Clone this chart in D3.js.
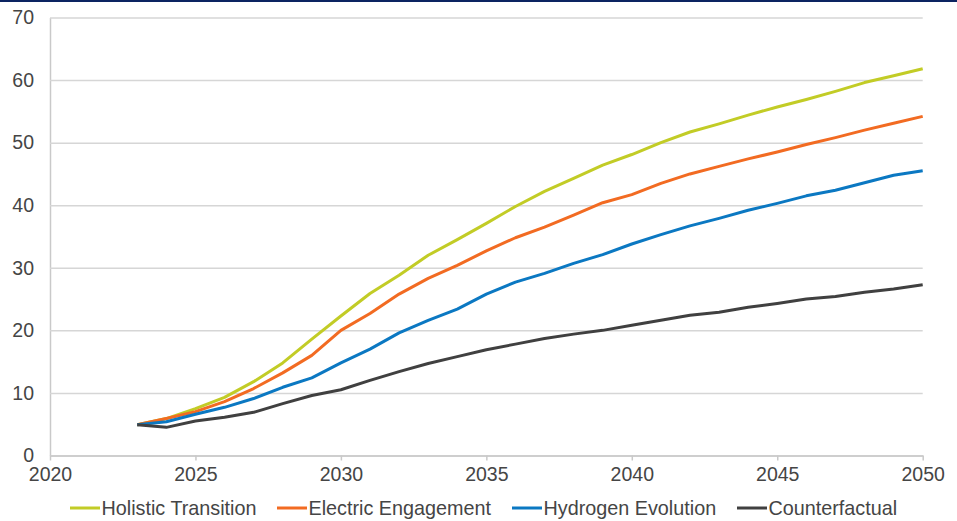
<!DOCTYPE html>
<html>
<head>
<meta charset="utf-8">
<script src="https://cdn.jsdelivr.net/npm/d3@7"></script>
<style>
  html, body { margin: 0; padding: 0; background: #fff; }
  svg { display: block; font-family: "Liberation Sans", Arial, Helvetica, sans-serif; }
</style>
</head>
<body>
<svg id="chart" width="957" height="521"></svg>
<script>
// Annual values, 2023–2050
const years = d3.range(2023, 2051);
const holistic = [4.9, 5.9, 7.5, 9.3, 11.8, 14.8, 18.6, 22.3, 25.9, 28.8, 32.0, 34.5, 37.1, 39.8, 42.2, 44.3, 46.4, 48.1, 50.0, 51.7, 53.0, 54.4, 55.7, 56.9, 58.2, 59.6, 60.7, 61.8];
const electric = [4.9, 5.9, 7.0, 8.6, 10.7, 13.2, 16.0, 20.0, 22.7, 25.8, 28.3, 30.4, 32.7, 34.8, 36.5, 38.4, 40.4, 41.7, 43.5, 45.0, 46.2, 47.4, 48.5, 49.7, 50.8, 52.0, 53.1, 54.2];
const hydrogen = [4.9, 5.4, 6.6, 7.7, 9.1, 10.9, 12.4, 14.8, 17.0, 19.6, 21.6, 23.4, 25.8, 27.7, 29.1, 30.7, 32.1, 33.8, 35.3, 36.7, 37.9, 39.2, 40.3, 41.5, 42.4, 43.6, 44.8, 45.5];
const counterfactual = [4.9, 4.5, 5.5, 6.1, 6.9, 8.3, 9.6, 10.5, 12.0, 13.4, 14.7, 15.8, 16.9, 17.8, 18.7, 19.4, 20.0, 20.8, 21.6, 22.4, 22.9, 23.7, 24.3, 25.0, 25.4, 26.1, 26.6, 27.3];

const seriesNames = ["Holistic Transition", "Electric Engagement", "Hydrogen Evolution", "Counterfactual"];
const seriesColors = ["#c2cc26", "#f26b22", "#0b78c2", "#404040"];
const seriesValues = [holistic, electric, hydrogen, counterfactual];

const xTicks = [2020, 2025, 2030, 2035, 2040, 2045, 2050];
const yTicks = [0, 10, 20, 30, 40, 50, 60, 70];

const svg = d3.select("#chart");
const W = 957;

// top rule
svg.append("rect").attr("x", 0).attr("y", 0).attr("width", W).attr("height", 2).attr("fill", "#0c2461");

const plotLeft = 50, plotRight = 922.7, plotTop = 17.5, plotBottom = 455.5;
const x = d3.scaleLinear().domain([2020, 2050]).range([plotLeft, plotRight]);
const y = d3.scaleLinear().domain([0, 70]).range([plotBottom, plotTop]);

// horizontal gridlines + y labels
const yAxis = svg.append("g")
  .attr("transform", `translate(${plotLeft},0)`)
  .call(d3.axisLeft(y).tickValues(yTicks).tickSize(-(plotRight - plotLeft)).tickSizeOuter(0).tickPadding(16));
yAxis.select(".domain").attr("stroke", "#c9c9c9").attr("stroke-width", 1.5);
yAxis.selectAll(".tick line").attr("stroke", "#d6d6d6").attr("stroke-width", 1.5);
yAxis.selectAll(".tick text")
  .attr("fill", "#454545").attr("font-size", "19.5px")
  .attr("font-family", '"Liberation Sans", Arial, sans-serif');

// x axis with downward ticks
const xAxis = svg.append("g")
  .attr("transform", `translate(0,${plotBottom})`)
  .call(d3.axisBottom(x).tickValues(xTicks).tickFormat(d3.format("d")).tickSize(5).tickSizeOuter(0).tickPadding(7));
xAxis.select(".domain").attr("stroke", "#c9c9c9").attr("stroke-width", 1.5);
xAxis.selectAll(".tick line").attr("stroke", "#c9c9c9").attr("stroke-width", 1.5);
xAxis.selectAll(".tick text")
  .attr("fill", "#454545").attr("font-size", "19.5px")
  .attr("font-family", '"Liberation Sans", Arial, sans-serif');

// series lines
const line = d3.line().x((d, i) => x(years[i])).y(d => y(d));
seriesValues.forEach((vals, k) => {
  svg.append("path")
    .datum(vals)
    .attr("fill", "none")
    .attr("stroke", seriesColors[k])
    .attr("stroke-width", 3)
    .attr("stroke-linejoin", "round")
    .attr("stroke-linecap", "butt")
    .attr("d", line);
});

// legend
const legendStarts = [70, 277, 512, 737];
const legendY = 508;
const legend = svg.append("g");
seriesNames.forEach((name, k) => {
  const g = legend.append("g").attr("transform", `translate(${legendStarts[k]},${legendY})`);
  g.append("line").attr("x1", 0).attr("x2", 30).attr("y1", 0).attr("y2", 0)
    .attr("stroke", seriesColors[k]).attr("stroke-width", 3);
  g.append("text").attr("x", 31.5).attr("y", 0).attr("dy", "0.35em")
    .attr("fill", "#454545").attr("font-size", "19.8px")
    .text(name);
});
</script>
</body>
</html>
